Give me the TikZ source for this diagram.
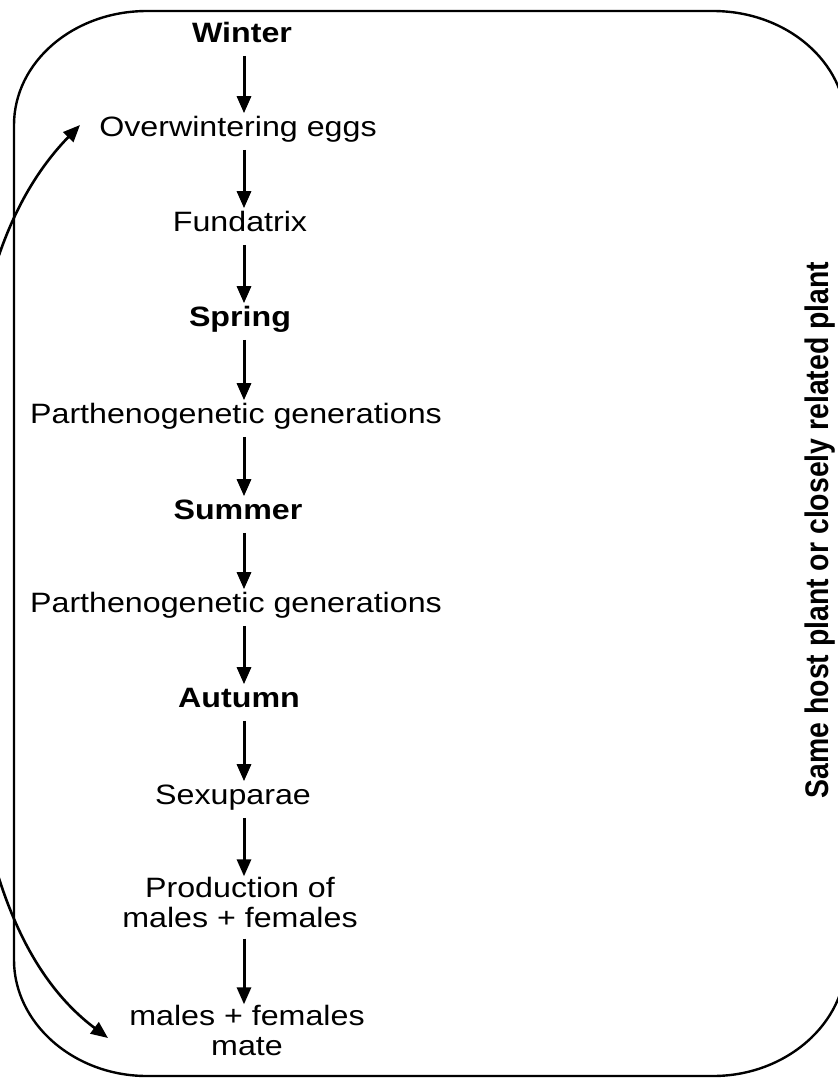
\documentclass[tikz,border=0pt]{standalone}
\usepackage{fontspec}
\setmainfont{Liberation Sans}[FakeStretch=1.15]
\newfontfamily\rotfont{Liberation Sans}
\usetikzlibrary{arrows.meta}
\begin{document}
\begin{tikzpicture}[x=0.5pt,y=-0.5pt,
  lbl/.style={font=\fontsize{14}{15}\selectfont, anchor=base, inner sep=0pt,
    text height=11.2pt, text depth=3.5pt},
  lbltwo/.style={font=\fontsize{14}{15}\selectfont, anchor=base, inner sep=0pt,
    align=center},
  season/.style={lbl, font=\fontsize{14}{15}\selectfont\bfseries},
  flow/.style={-{Triangle[length=8.5pt,width=7pt]}, line width=1.5pt, shorten <=3.2pt},
  cyclearrow/.style={{Triangle[length=8.5pt,width=7pt]}-{Triangle[length=8.5pt,width=7pt]}, line width=1.3pt},
  frame/.style={line width=1.2pt},
  sidelabel/.style={rotate=90, anchor=base, inner sep=0pt}]
\clip (0,0) rectangle (838,1078);
% frame
\draw[frame] (14,125) .. controls (14,62) and (73.5,11) .. (147,11) -- (713,11)
  .. controls (786.5,11) and (846,62) .. (846,125) -- (846,960)
  .. controls (846,1023) and (786.5,1076) .. (713,1076) -- (147,1076)
  .. controls (73.5,1076) and (14,1023) .. (14,960) -- cycle;
% labels
\node[season] (winter) at (242,42) {Winter};
\node[lbl] (eggs) at (238,136) {Overwintering eggs};
\node[lbl] (fund) at (240,231) {Fundatrix};
\node[season] (spring) at (240,326) {Spring};
\node[lbl] (parth1) at (236,423) {Parthenogenetic generations};
\node[season] (summer) at (238,519) {Summer};
\node[lbl] (parth2) at (236,612) {Parthenogenetic generations};
\node[season] (autumn) at (239,707) {Autumn};
\node[lbl] (sexu) at (233,804) {Sexuparae};
\node[lbltwo] (prod) at (240,927) {Production of\\males + females};
\node[lbltwo] (mate) at (247,1055) {males + females\\mate};
\node[sidelabel] (side) at (828,530) {\scalebox{1}[1.15]{\fontsize{14.2}{16}\rotfont\bfseries Same host plant or closely related plant}};
% arrows
\coordinate (ax) at (244,0);
\draw[flow] (winter.south -| ax) -- (eggs.north -| ax);
\draw[flow] (eggs.south -| ax) -- (fund.north -| ax);
\draw[flow] (fund.south -| ax) -- (spring.north -| ax);
\draw[flow] (spring.south -| ax) -- (parth1.north -| ax);
\draw[flow] (parth1.south -| ax) -- (summer.north -| ax);
\draw[flow] (summer.south -| ax) -- (parth2.north -| ax);
\draw[flow] (parth2.south -| ax) -- (autumn.north -| ax);
\draw[flow] (autumn.south -| ax) -- (sexu.north -| ax);
\draw[flow] (sexu.south -| ax) -- (prod.north -| ax);
\draw[flow, shorten <=5.5pt] (prod.south -| ax) -- (mate.north -| ax);
% cycle arrow
\coordinate (ctop) at (80,125);
\coordinate (cbot) at (108,1038);
\draw[cyclearrow] (ctop) .. controls (-14,222) and (-38,363) .. (-38,563)
  .. controls (-38,763) and (-12,948) .. (cbot);
\end{tikzpicture}
\end{document}
